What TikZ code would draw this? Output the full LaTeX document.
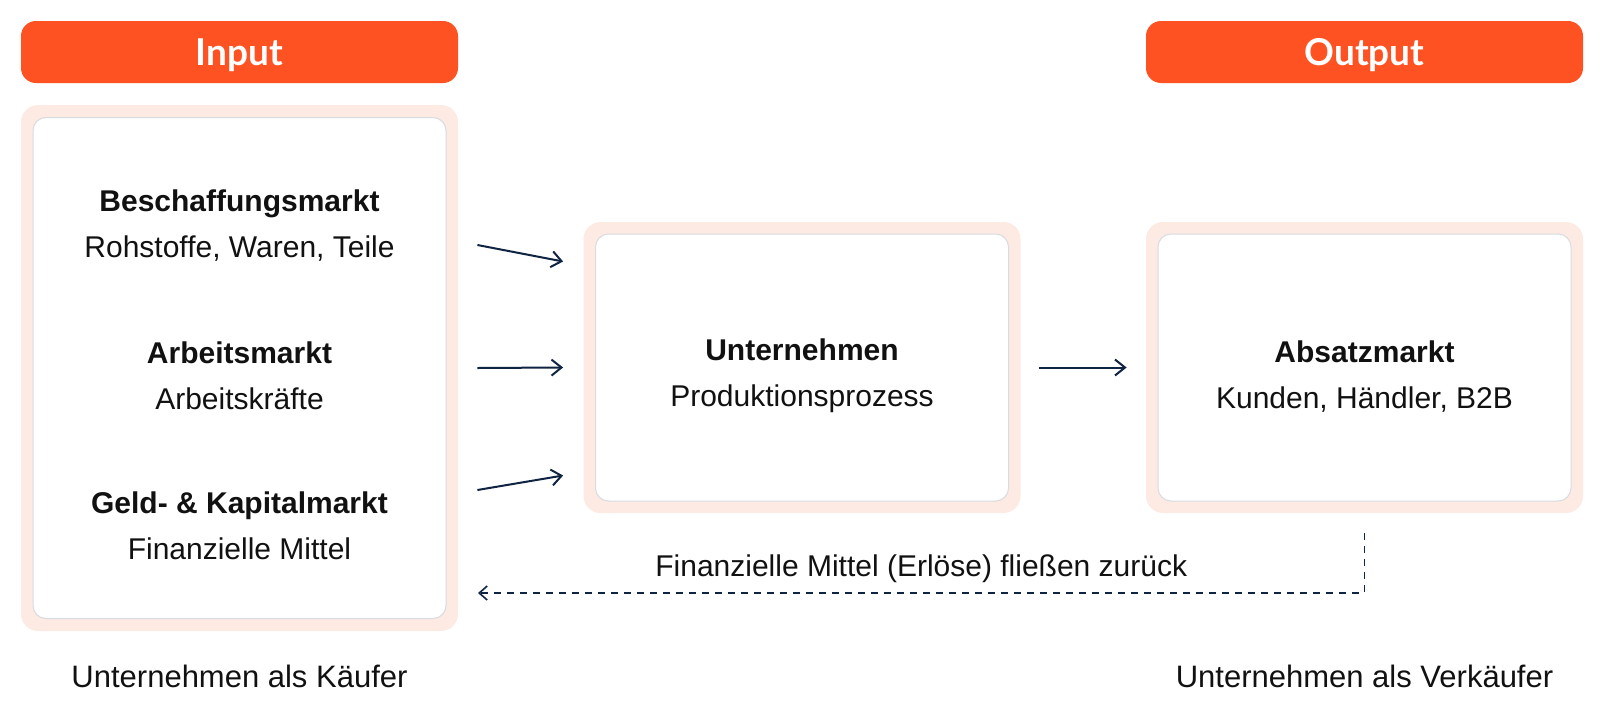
\documentclass[tikz,border=0pt]{standalone}
\usepackage{fontspec}
\setmainfont{Liberation Sans}
\newfontfamily\kopffont{Lato}
\usetikzlibrary{arrows.meta}

\definecolor{kopforange}{HTML}{FF5222}
\definecolor{blassrot}{HTML}{FDEAE3}
\definecolor{rahmengrau}{HTML}{D8DBE0}
\definecolor{pfeilblau}{HTML}{0F2342}
\definecolor{schrift}{HTML}{111111}

\tikzset{
  kopf/.style={rectangle, rounded corners=7.5pt, fill=kopforange, text=white,
    minimum width=218.5pt, minimum height=31pt, text height=13.3pt, text depth=0pt,
    font=\kopffont\bfseries\fontsize{18.5}{22}\selectfont},
  aussen/.style={rectangle, rounded corners=8.5pt, fill=blassrot, minimum width=218.5pt},
  innen/.style={rectangle, rounded corners=6.5pt, fill=white, draw=rahmengrau,
    line width=0.5pt, minimum width=206.5pt},
  markt/.style={align=center, text=schrift, font=\fontsize{15}{23}\selectfont},
  notiz/.style={text=schrift, font=\fontsize{15.5}{18}\selectfont},
  pfeil/.style={draw=pfeilblau, line width=1pt, -{Straight Barb[length=5pt,width=8pt]}},
  rueckpfeil/.style={draw=pfeilblau, line width=0.8pt, dash pattern=on 3.5pt off 3pt,
    -{Straight Barb[length=4pt,width=7pt]}}
}

\begin{document}
\begin{tikzpicture}[x=0.5pt,y=-0.5pt]
        \useasboundingbox (0,0) rectangle (1604,707);

        % Kopfzeilen
        \node[kopf] (input) at (239.5,52) {Input};
        \node[kopf] (output) at (1364.5,52) {Output};

        % Kaesten
        \node[aussen, minimum height=263pt] (links) at (239.5,368) {};
        \node[innen, minimum height=250.5pt] (linksinnen) at (links.center) {};
        \node[aussen, minimum height=145.5pt] (mitte) at (802,367.5) {};
        \node[innen, minimum height=133.5pt] (mitteinnen) at (mitte.center) {};
        \node[aussen, minimum height=145.5pt] (absatz) at (1364.5,367.5) {};
        \node[innen, minimum height=133.5pt] (absatzinnen) at (absatz.center) {};

        % Maerkte
        \node[markt] (beschaffung) at (239.5,225.5) {\textbf{Beschaffungsmarkt}\\Rohstoffe, Waren, Teile};
        \node[markt] (arbeit) at (239.5,375.5) {\textbf{Arbeitsmarkt}\\Arbeitskräfte};
        \node[markt] (kapital) at (239.5,525.5) {\textbf{Geld- \& Kapitalmarkt}\\Finanzielle Mittel};
        \node[markt] (unternehmen) at (802,376) {\textbf{Unternehmen}\\Produktionsprozess};
        \node[markt] (kunden) at (1364.5,376.5) {\textbf{Absatzmarkt}\\Kunden, Händler, B2B};

        % Pfeile
        \draw[pfeil] ([xshift=9.5pt,yshift=61.5pt]links.east) -- ([xshift=-10pt,yshift=53pt]mitte.west);
        \draw[pfeil] ([xshift=9.5pt]links.east) -- ([xshift=-10pt]mitte.west);
        \draw[pfeil] ([xshift=9.5pt,yshift=-61pt]links.east) -- ([xshift=-10pt,yshift=-54pt]mitte.west);
        \draw[pfeil] ([xshift=9pt]mitte.east) -- ([xshift=-9.5pt]absatz.west);

        % Rueckfluss
        \coordinate (rueckende) at (478,593);
        \draw[rueckpfeil] ([yshift=-10pt]absatz.south) |- (rueckende)
            node[markt, pos=0.75, yshift=12pt] (erloese) {Finanzielle Mittel (Erlöse) fließen zurück};

        % Rollen
        \node[notiz] (kaeufer) at (239.5,676) {Unternehmen als Käufer};
        \node[notiz] (verkaeufer) at (1364.5,676) {Unternehmen als Verkäufer};
\end{tikzpicture}
\end{document}
